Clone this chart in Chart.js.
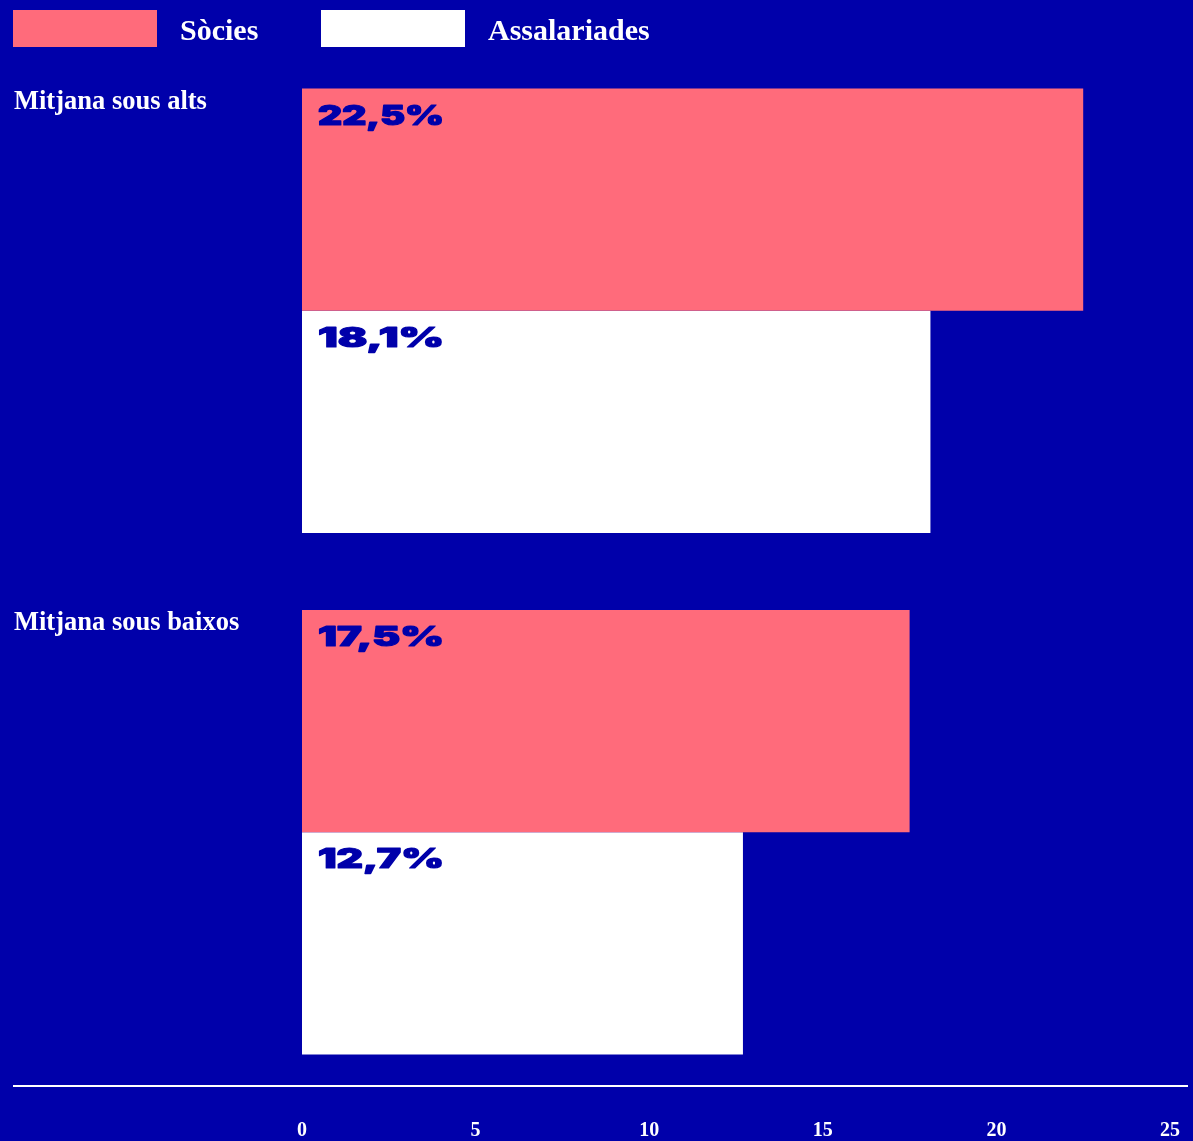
<!DOCTYPE html>
<html>
<head>
<meta charset="utf-8">
<script src="https://cdn.jsdelivr.net/npm/chart.js@4.4.1/dist/chart.umd.min.js"></script>
<style>
  html, body { margin: 0; padding: 0; background: #0000aa; }
  #wrap { width: 1193px; height: 1141px; position: relative; }
</style>
</head>
<body>
<div id="wrap"><canvas id="c" width="1193" height="1141"></canvas></div>
<script>
// Categories, series and axis ticks
const categories = ['Mitjana sous alts', 'Mitjana sous baixos'];
const seriesNames = ['Sòcies', 'Assalariades'];
const socies = [22.5, 17.5];
const assalariades = [18.1, 12.7];
const tickValues = [0, 5, 10, 15, 20, 25];

const BG = '#0000aa';
const PINK = '#ff6b7b';
const WHITE = '#ffffff';
const SERIF = '"Liberation Serif", "Times New Roman", serif';
const WIDE = 'Inter, "DejaVu Sans", sans-serif';

function fmt(v) {
  return v.toFixed(1).replace('.', ',') + '%';
}

// Legend, category titles, value labels and the baseline rule
const decorations = {
  id: 'decorations',
  beforeDraw(chart) {
    const ctx = chart.ctx;
    ctx.save();
    ctx.fillStyle = BG;
    ctx.fillRect(0, 0, chart.width, chart.height);
    ctx.restore();
  },
  afterDatasetsDraw(chart) {
    const ctx = chart.ctx;
    ctx.save();

    // legend
    const legendItems = [
      { x: 13, color: PINK, text: seriesNames[0] },
      { x: 321, color: WHITE, text: seriesNames[1] }
    ];
    ctx.font = 'bold 30px ' + SERIF;
    ctx.textBaseline = 'alphabetic';
    ctx.textAlign = 'left';
    legendItems.forEach(item => {
      ctx.fillStyle = item.color;
      ctx.fillRect(item.x, 10, 144, 37);
      ctx.fillStyle = WHITE;
      ctx.fillText(item.text, item.x + 167, 40);
    });

    // category titles aligned with the top of each group
    const first = chart.getDatasetMeta(0);
    ctx.font = 'bold 26.5px ' + SERIF;
    ctx.fillStyle = WHITE;
    categories.forEach((label, i) => {
      const bar = first.data[i];
      const top = bar.y - bar.height / 2;
      ctx.fillText(label, 14, top + 20);
    });

    // value labels inside each bar, wide heavy face
    ctx.fillStyle = BG;
    ctx.strokeStyle = BG;
    ctx.lineWidth = 1.2;
    ctx.lineJoin = 'round';
    ctx.font = '900 28px ' + WIDE;
    chart.data.datasets.forEach((ds, di) => {
      const meta = chart.getDatasetMeta(di);
      meta.data.forEach((bar, i) => {
        const top = bar.y - bar.height / 2;
        const left = Math.min(bar.x, bar.base);
        const txt = fmt(ds.data[i]);
        const m = ctx.measureText(txt);
        const sx = 126 / m.width;
        const sy = 20 / (m.actualBoundingBoxAscent || 20);
        ctx.save();
        ctx.translate(left + 16, top + 36);
        ctx.scale(sx, sy);
        ctx.fillText(txt, 0, 0);
        ctx.strokeText(txt, 0, 0);
        ctx.restore();
      });
    });

    // horizontal rule above the tick labels
    ctx.strokeStyle = WHITE;
    ctx.lineWidth = 2;
    ctx.beginPath();
    ctx.moveTo(13, 1086);
    ctx.lineTo(1188, 1086);
    ctx.stroke();

    ctx.restore();
  }
};

new Chart(document.getElementById('c'), {
  type: 'bar',
  data: {
    labels: categories,
    datasets: [
      { label: seriesNames[0], data: socies, backgroundColor: PINK, borderWidth: 0 },
      { label: seriesNames[1], data: assalariades, backgroundColor: WHITE, borderWidth: 0 }
    ]
  },
  options: {
    indexAxis: 'y',
    responsive: false,
    animation: false,
    devicePixelRatio: 1,
    categoryPercentage: 0.852,
    barPercentage: 1.0,
    layout: { padding: { left: 302, right: 23, top: 50, bottom: 0 } },
    plugins: {
      legend: { display: false },
      tooltip: { enabled: false }
    },
    scales: {
      y: { display: false, grid: { display: false } },
      x: {
        min: 0,
        max: 25,
        grid: { display: false, drawTicks: false },
        border: { display: false },
        afterBuildTicks(scale) {
          scale.ticks = tickValues.map(v => ({ value: v }));
        },
        afterFit(scale) {
          scale.height = 48;
          scale.paddingLeft = 0;
          scale.paddingRight = 0;
        },
        ticks: {
          color: WHITE,
          padding: 26,
          maxRotation: 0,
          autoSkip: false,
          font: { family: SERIF, size: 20, weight: 'bold' }
        }
      }
    }
  },
  plugins: [decorations]
});
</script>
</body>
</html>
